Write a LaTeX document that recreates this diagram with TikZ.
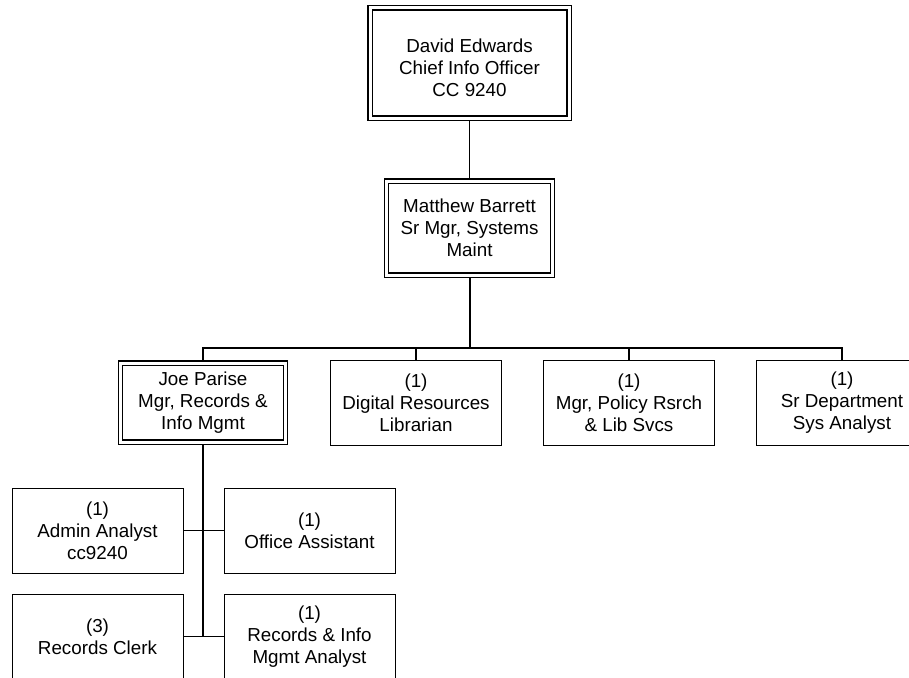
\documentclass[tikz,border=0pt]{standalone}
\usepackage{fontspec}
\setmainfont{Liberation Sans}
\usetikzlibrary{positioning,calc,backgrounds}
\tikzset{
  org/.style={x=1pt,y=-1pt,font=\fontsize{18.8}{22}\selectfont},
  box/.style={draw=black,line width=1pt,align=center,inner sep=2pt,
    minimum width=171pt,minimum height=85pt},
  bossbox/.style={box,double=white,double distance=3pt,line width=1.4pt},
  link/.style={draw=black,line width=2pt},
  thinlink/.style={draw=black,line width=1pt},
}

\begin{document}
\begin{tikzpicture}[org]
  \path[use as bounding box,clip] (0,0) rectangle (909,677);
  % top of the tree
  \node[bossbox,minimum width=199pt,minimum height=110pt] (de) at (469.5,63)
    {\raisebox{-7pt}[\height][\depth]{\begin{tabular}{@{}c@{}}David Edwards\\ Chief Info Officer\\ CC 9240\end{tabular}}};
  \node[bossbox,minimum width=166pt,minimum height=94pt] (mb) at (469.5,228)
    {Matthew Barrett\\ Sr Mgr, Systems\\ Maint};
  % second row
  \node[bossbox,minimum width=165pt,minimum height=79pt] (jp) at (203,402.5)
    {Joe Parise\\ Mgr, Records \&\\ Info Mgmt};
  \node[box] (dr) at (416,402.5) {(1)\\ Digital Resources\\ Librarian};
  \node[box] (pr) at (629,402.5) {(1)\\ Mgr, Policy Rsrch\\ \& Lib Svcs};
  \node[box] (sd) at (842,402.5) {(1)\\ Sr Department\\ Sys Analyst};
  % staff under Joe Parise
  \node[box] (aa) at (97.5,530.5) {(1)\\ Admin Analyst\\ cc9240};
  \node[box] (oa) at (309.5,530.5) {(1)\\ Office Assistant};
  \node[box] (rc) at (97.5,636.5) {(3)\\ Records Clerk};
  \node[box] (ri) at (309.5,636.5) {(1)\\ Records \& Info\\ Mgmt Analyst};
  \coordinate (bar) at (469.5,348);
  \coordinate (jpend) at (203,636.5);
  \begin{scope}[on background layer]
    \draw[thinlink] (de.south) -- (mb.north);
    \draw[link] (mb.south) -- (bar);
    \foreach \n in {jp,dr,pr,sd}
      \draw[thinlink,line width=1.4pt] (bar) -| (\n.north);
    \draw[link] (jp.south) -- (jpend);
    \draw[thinlink] (aa.east) -- (oa.west);
    \draw[thinlink] (rc.east) -- (ri.west);
  \end{scope}
\end{tikzpicture}
\end{document}
